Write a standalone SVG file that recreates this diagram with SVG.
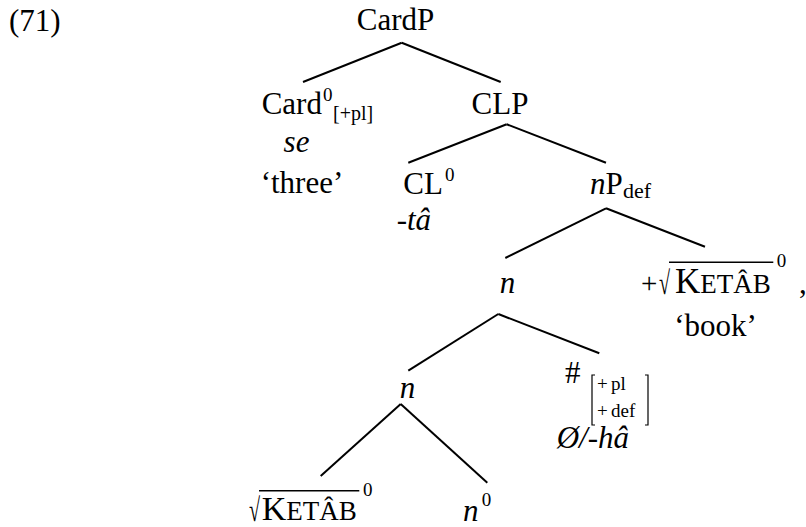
<svg xmlns="http://www.w3.org/2000/svg" width="806" height="527" viewBox="0 0 806 527" font-family="'Liberation Serif', 'Times New Roman', serif">
<style>
text{font-family:'Liberation Serif','Times New Roman',serif;fill:#000;font-size:31px}
.i{font-style:italic}
.m{text-anchor:middle}
.sup{font-size:19px}
.sub{font-size:20px}
.sm{font-size:19px}
.k{font-size:35px}
.sc{font-size:27px}
.plus{font-size:29px}
.e line{stroke:#000;stroke-width:2;stroke-linecap:butt}
.br{fill:none;stroke:#000;stroke-width:1.2}
.ov{stroke:#000;stroke-width:1.5}
</style>
<rect width="806" height="527" fill="#fff"/>
<text x="9" y="31">(71)</text>
<g id="edges" class="e">
<line x1="401.7" y1="42.7" x2="303" y2="82"/>
<line x1="401.7" y1="42.7" x2="500.7" y2="82"/>
<line x1="506.7" y1="124.3" x2="408.3" y2="162.7"/>
<line x1="506.7" y1="124.3" x2="606" y2="162.7"/>
<line x1="606" y1="208.3" x2="505.3" y2="258"/>
<line x1="606" y1="208.3" x2="705" y2="246.7"/>
<line x1="498.3" y1="314" x2="408.3" y2="370.7"/>
<line x1="498.3" y1="314" x2="599.3" y2="353.3"/>
<line x1="400.7" y1="404" x2="320.7" y2="476"/>
<line x1="400.7" y1="404" x2="487.3" y2="482.7"/>
</g>
<g id="cardp"><text class="m" x="395.5" y="29.5">CardP</text></g>
<g id="card0">
<text x="261.7" y="114">Card</text>
<text class="sup" x="323" y="101">0</text>
<text class="sub" x="333" y="119.5">[+pl]</text>
<text class="i m" x="296.5" y="152">se</text>
<text class="m" x="302" y="193">‘three’</text>
</g>
<g id="clp"><text class="m" x="500" y="114">CLP</text></g>
<g id="cl0">
<text x="403.3" y="194">CL</text>
<text class="sup" x="445" y="181">0</text>
<text class="i" x="396.7" y="230">-tâ</text>
</g>
<g id="npdef">
<text x="590" y="194"><tspan class="i">n</tspan>P</text>
<text class="sub" x="623" y="198" style="font-size:22px">def</text>
</g>
<g id="n1"><text class="i m" x="507.5" y="292.7">n</text></g>
<g id="ketab1">
<text class="plus" x="641" y="293">+</text>
<text transform="translate(659,294) scale(0.65,1.05)">√</text>
<line class="ov" x1="669" y1="262.3" x2="773.3" y2="262.3"/>
<text x="675" y="293"><tspan class="k">K</tspan><tspan class="sc">ETÂB</tspan></text>
<text class="sup" x="776.7" y="267">0</text>
<text x="799" y="293">,</text>
<text class="m" x="715.5" y="336">‘book’</text>
</g>
<g id="n2"><text class="i m" x="407.5" y="398.3">n</text></g>
<g id="num">
<text x="565" y="383">#</text>
<path class="br" d="M595,375 H592 V425 H595 M645,375 H648 V425 H645"/>
<text class="sm" x="597" y="390">+</text>
<text class="sm" x="611" y="390">pl</text>
<text class="sm" x="597" y="417">+</text>
<text class="sm" x="611" y="417">def</text>
<text class="i" x="556.7" y="448">Ø/-hâ</text>
</g>
<g id="ketab2">
<text transform="translate(249,521) scale(0.65,1.05)">√</text>
<line class="ov" x1="259" y1="490.7" x2="359.3" y2="490.7"/>
<text x="261.7" y="520"><tspan class="k" style="font-size:34px">K</tspan><tspan class="sc">ETÂB</tspan></text>
<text class="sup" x="363" y="496">0</text>
</g>
<g id="n0">
<text class="i" x="463" y="520.5">n</text>
<text class="sup" x="481.7" y="506">0</text>
</g>
</svg>
